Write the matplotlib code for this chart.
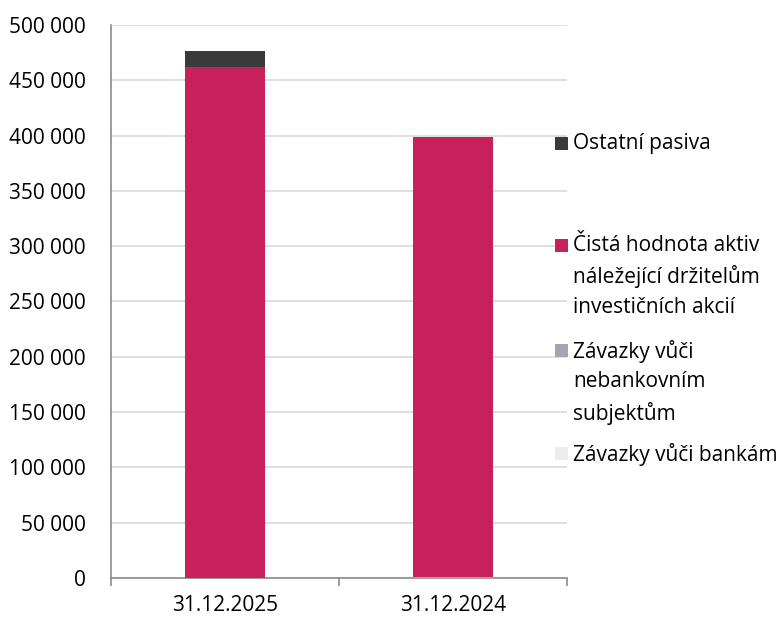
import matplotlib.pyplot as plt
from matplotlib.patches import Rectangle
from matplotlib.ticker import FuncFormatter, FixedLocator, NullFormatter

plt.rcParams['font.family'] = ['Open Sans', 'DejaVu Sans']

# data
dates = ["31.12.2025", "31.12.2024"]
zavazky_banky = [0, 0]
zavazky_nebank = [200, 900]
cista_hodnota = [461800, 397400]
ostatni = [14100, 300]

series = [
    ("Závazky vůči bankám", zavazky_banky, "#ECECEC"),
    ("Závazky vůči\nnebankovním\nsubjektům", zavazky_nebank, "#A5A5AF"),
    ("Čistá hodnota aktiv\nnáležející držitelům\ninvestičních akcií", cista_hodnota, "#C8205A"),
    ("Ostatní pasiva", ostatni, "#3A3A3A"),
]

fig = plt.figure(figsize=(7.84, 6.17), dpi=100)
ax = fig.add_axes([111 / 784, 1 - 578 / 617, 456 / 784, 553 / 617])

x = list(range(len(dates)))
bottom = [0] * len(dates)
for name, vals, col in series:
    ax.bar(x, vals, width=0.35, bottom=bottom, color=col, zorder=3)
    bottom = [b + v for b, v in zip(bottom, vals)]

ax.set_xlim(-0.5, 1.5)
ax.set_ylim(0, 500000)
ax.set_yticks(range(0, 500001, 50000))
ax.yaxis.set_major_formatter(FuncFormatter(lambda v, p: f"{int(v):,}".replace(",", " ")))
ax.grid(axis="y", color="#D9D9D9", linewidth=1.2, zorder=0)

ax.xaxis.set_major_locator(FixedLocator([-0.5, 0.5, 1.5]))
ax.xaxis.set_major_formatter(NullFormatter())
ax.xaxis.set_minor_locator(FixedLocator(x))
ax.xaxis.set_minor_formatter(FuncFormatter(lambda v, p: dates[int(round(v))]))
ax.tick_params(axis="x", which="major", length=6, color="#8C8C8C", width=1.2)
ax.tick_params(axis="x", which="minor", length=0, pad=12, labelsize=15)
ax.tick_params(axis="y", length=0, pad=18, labelsize=15)

for s in ["top", "right"]:
    ax.spines[s].set_visible(False)
for s in ["left", "bottom"]:
    ax.spines[s].set_color("#8C8C8C")
    ax.spines[s].set_linewidth(1.2)

# legend drawn by hand to match the spacing
legend_y = [143, 245, 350, 453]
for (name, vals, col), y in zip(reversed(series), legend_y):
    fig.patches.append(Rectangle((555 / 784, 1 - (y + 6.5) / 617), 13 / 784, 13 / 617,
                                 transform=fig.transFigure, facecolor=col, edgecolor="none"))
    fig.text(573 / 784, 1 - (y - 10) / 617, name, fontsize=15, va="top", ha="left",
             linespacing=1.52)

fig.savefig("out.png", dpi=100)
